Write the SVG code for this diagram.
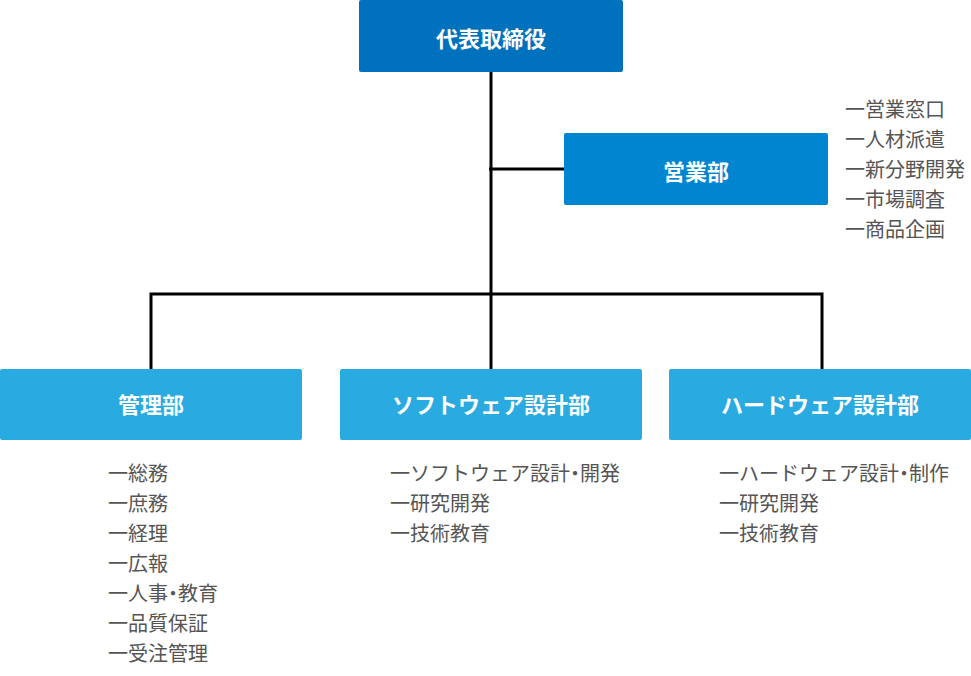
<svg xmlns="http://www.w3.org/2000/svg" width="971" height="676" viewBox="0 0 971 676">
<style>
.t{font-family:"Noto Sans CJK JP","Noto Sans",sans-serif;font-size:22px;font-weight:bold;fill:#fff;text-anchor:middle}
.l{font-family:"Noto Sans CJK JP","Noto Sans",sans-serif;font-size:20px;fill:#555}
.d{font-feature-settings:"palt"}
.c{stroke:#000;stroke-width:3;fill:none}
.b1{fill:#29aae1}
</style>
<rect width="971" height="676" fill="#fff"/>
<g id="connectors">
<line class="c" x1="491" y1="72" x2="491" y2="369"/>
<line class="c" x1="489" y1="169" x2="564" y2="169"/>
<polyline class="c" points="151,369 151,294 822,294 822,369"/>
</g>
<g id="ceo">
<rect x="359" y="0" width="264" height="72" rx="2" fill="#0071bd"/>
<text class="t" x="491" y="47">代表取締役</text>
</g>
<g id="sales">
<rect x="564" y="133" width="264" height="72" rx="2" fill="#0085d0"/>
<text class="t" x="696" y="180">営業部</text>
<text class="l" x="845" y="117">一営業窓口</text>
<text class="l" x="845" y="147">一人材派遣</text>
<text class="l" x="845" y="177">一新分野開発</text>
<text class="l" x="845" y="207">一市場調査</text>
<text class="l" x="845" y="237">一商品企画</text>
</g>
<g id="admin">
<rect class="b1" x="0" y="369" width="302" height="71" rx="2"/>
<text class="t" x="151" y="413">管理部</text>
<text class="l" x="108" y="481">一総務</text>
<text class="l" x="108" y="511">一庶務</text>
<text class="l" x="108" y="541">一経理</text>
<text class="l" x="108" y="571">一広報</text>
<text class="l" x="108" y="601">一人事<tspan class="d">・</tspan>教育</text>
<text class="l" x="108" y="631">一品質保証</text>
<text class="l" x="108" y="661">一受注管理</text>
</g>
<g id="software">
<rect class="b1" x="340" y="369" width="302" height="71" rx="2"/>
<text class="t" x="491" y="413">ソフトウェア設計部</text>
<text class="l" x="390" y="481">一ソフトウェア設計<tspan class="d">・</tspan>開発</text>
<text class="l" x="390" y="511">一研究開発</text>
<text class="l" x="390" y="541">一技術教育</text>
</g>
<g id="hardware">
<rect class="b1" x="669" y="369" width="302" height="71" rx="2"/>
<text class="t" x="820" y="413">ハードウェア設計部</text>
<text class="l" x="719" y="481">一ハードウェア設計<tspan class="d">・</tspan>制作</text>
<text class="l" x="719" y="511">一研究開発</text>
<text class="l" x="719" y="541">一技術教育</text>
</g>
</svg>
